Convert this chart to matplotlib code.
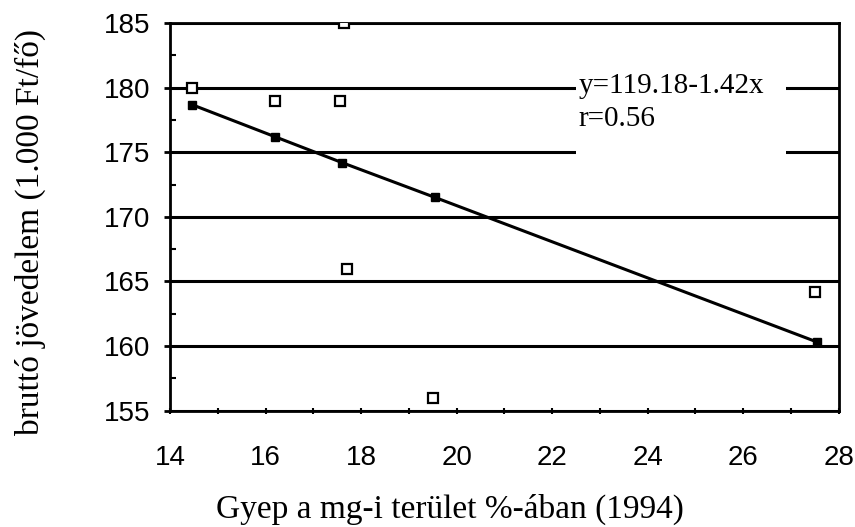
import numpy as np
import matplotlib.pyplot as plt

# observed values (open squares)
gyep = [14.45, 16.2, 17.55, 17.65, 17.7, 19.5, 27.5]
jovedelem = [180.0, 179.0, 179.0, 185.0, 166.0, 156.0, 164.2]

# fitted values on the regression line
gyep_fit = [14.45, 16.2, 17.6, 19.55, 27.55]
jovedelem_fit = [178.7, 176.2, 174.2, 171.5, 160.3]

x_ticks = [14, 16, 18, 20, 22, 24, 26, 28]
y_ticks = [155, 160, 165, 170, 175, 180, 185]

fig = plt.figure(figsize=(8.55, 5.27), dpi=100)
ax = fig.add_axes([0.199, 0.221, 0.782, 0.735])

# horizontal grid lines
for yv in y_ticks:
    ax.axhline(yv, color='k', lw=2.2, zorder=1)

ax.plot(gyep_fit, jovedelem_fit, color='k', lw=2.2, marker='s', ms=6,
        mfc='k', mec='k', zorder=3)
ax.plot(gyep, jovedelem, ls='none', marker='s', ms=7, mfc='white',
        mec='k', mew=1.6, zorder=4)

ax.set_xlim(14, 28)
ax.set_ylim(155, 185)
ax.set_xticks(x_ticks)
ax.set_yticks(y_ticks)
ax.set_xticks(np.arange(14, 29, 1), minor=True)
ax.set_yticks(np.arange(155, 185.1, 2.5), minor=True)

tick_font = {'family': 'Liberation Sans', 'size': 20}
ax.set_xticklabels([str(v) for v in x_ticks], fontdict=tick_font)
ax.set_yticklabels([str(v) for v in y_ticks], fontdict=tick_font)

ax.tick_params(axis='x', which='major', direction='inout', length=5, width=1.5, pad=22)
ax.tick_params(axis='x', which='minor', direction='inout', length=4, width=1.5)
ax.tick_params(axis='y', which='major', direction='out', length=4, width=2, pad=10)
ax.tick_params(axis='y', which='minor', direction='in', length=4, width=1.5)

for side in ['left', 'right', 'top', 'bottom']:
    ax.spines[side].set_linewidth(2)
    ax.spines[side].set_color('k')

ax.set_xlabel('Gyep a mg-i terület %-ában (1994)', family='Liberation Serif', size=24)
ax.set_ylabel('bruttó jövedelem (1.000 Ft/fő)', family='Liberation Serif', size=24)
ax.xaxis.set_label_coords(0.418, -0.215)
ax.yaxis.set_label_coords(-0.185, 0.46)

# white patch behind the equation, breaking the 180 and 175 lines
ax.fill_between([22.5, 26.9], 174.5, 180.7, color='white', lw=0, zorder=2)
ax.text(22.55, 180.1, 'y=119.18-1.42x', family='Liberation Serif',
        size=21, va='center', ha='left', zorder=5)
ax.text(22.55, 177.6, 'r=0.56', family='Liberation Serif',
        size=21, va='center', ha='left', zorder=5)

fig.savefig('out.png', dpi=100)
